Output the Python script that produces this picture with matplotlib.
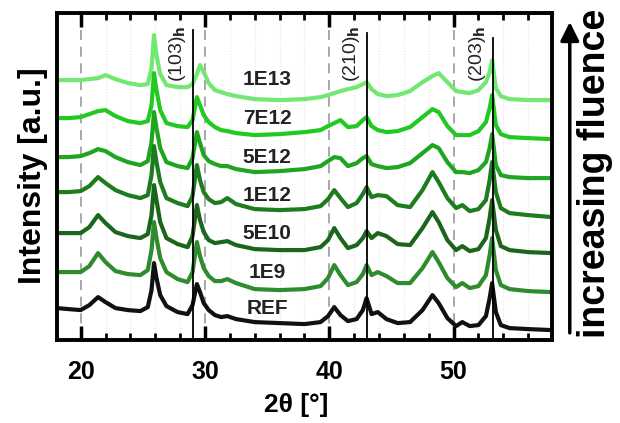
import matplotlib
matplotlib.use("Agg")
import matplotlib.pyplot as plt
from matplotlib.ticker import MultipleLocator

plt.rcParams["font.family"] = ["Liberation Sans", "DejaVu Sans"]
plt.rcParams["font.weight"] = "bold"

# 2theta sample points (deg)
two_theta = [18.1, 19.0, 20.0, 20.7, 21.4, 22.0, 22.8, 23.8, 24.8, 25.4,
             25.7, 25.9, 26.1, 26.4, 26.9, 27.8, 28.6, 29.0, 29.35, 29.6,
             29.9, 30.3, 30.8, 31.3, 31.8, 32.5, 34.0, 36.0, 38.0, 39.3,
             39.9, 40.4, 40.9, 41.5, 42.2, 42.7, 43.0, 43.4, 43.9, 44.6,
             45.5, 46.5, 47.5, 48.3, 48.8, 49.5, 50.2, 50.7, 51.3, 52.0,
             52.6, 52.9, 53.1, 53.4, 53.8, 54.5, 56.0, 57.9]

# stacked intensities (a.u.), already offset as in the plot
i_ref = [32, 31, 30, 35, 43, 38, 32, 30, 29, 33,
         50, 77, 62, 45, 34, 28, 26, 35, 56, 48,
         37, 30, 25, 23, 24, 21, 18, 17, 16, 18,
         24, 33, 25, 19, 21, 30, 42, 26, 28, 21,
         17, 18, 30, 45, 37, 22, 14, 18, 14, 15,
         24, 42, 57, 28, 15, 12, 11, 10]
i_1e9 = [68, 68, 68, 74, 87, 78, 69, 66, 65, 70,
         90, 118, 102, 82, 68, 61, 58, 68, 98, 84,
         72, 64, 59, 59, 61, 57, 51, 50, 51, 54,
         62, 75, 65, 55, 58, 66, 75, 65, 68, 64,
         57, 57, 72, 88, 78, 62, 53, 57, 52, 54,
         65, 85, 102, 70, 55, 51, 49, 48]
i_5e10 = [107, 107, 107, 113, 125, 117, 108, 104, 102, 106,
          125, 155, 140, 118, 102, 96, 93, 104, 135, 120,
          108, 100, 97, 98, 99, 95, 91, 90, 90, 93,
          100, 112, 102, 92, 95, 102, 109, 102, 107, 104,
          96, 95, 112, 128, 118, 100, 90, 94, 89, 91,
          102, 122, 140, 110, 94, 90, 88, 87]
i_1e12 = [148, 148, 149, 154, 163, 157, 150, 145, 142, 145,
          165, 194, 178, 158, 142, 137, 134, 144, 175, 160,
          148, 141, 137, 138, 142, 136, 131, 130, 131, 134,
          141, 150, 142, 133, 137, 146, 153, 143, 145, 144,
          135, 133, 150, 168, 158, 142, 132, 135, 129, 131,
          140, 160, 178, 148, 132, 127, 125, 123]
i_5e12 = [183, 183, 184, 187, 191, 189, 183, 178, 175, 179,
          198, 228, 212, 192, 178, 174, 172, 182, 208, 197,
          185, 179, 176, 174, 174, 171, 168, 169, 171, 174,
          179, 183, 182, 174, 177, 182, 184, 176, 174, 172,
          173, 177, 187, 195, 192, 178, 168, 168, 167, 170,
          178, 192, 206, 175, 165, 163, 162, 162]
i_7e12 = [222, 222, 223, 226, 229, 230, 224, 219, 217, 219,
          235, 267, 250, 230, 217, 214, 213, 220, 243, 235,
          225, 218, 213, 210, 209, 207, 205, 206, 208, 210,
          214, 217, 220, 213, 214, 220, 223, 214, 210, 208,
          209, 213, 223, 231, 228, 214, 205, 205, 205, 209,
          218, 232, 245, 215, 206, 203, 202, 201]
i_1e13 = [260, 260, 260, 261, 262, 265, 261, 257, 255, 256,
          272, 305, 285, 266, 255, 253, 253, 256, 266, 275,
          268, 257, 250, 248, 246, 244, 241, 240, 241, 243,
          245, 247, 249, 251, 253, 256, 258, 251, 246, 244,
          245, 249, 258, 264, 267, 258, 249, 248, 247, 250,
          258, 268, 280, 252, 244, 241, 240, 240]

sample_names = ["REF", "1E9", "5E10", "1E12", "5E12", "7E12", "1E13"]
label_heights = [32, 68, 107, 145, 183, 222, 261]

# reference reflections of the hexagonal phase
ref_peaks = [29.05, 43.05, 53.2]
ref_labels = ["(103)$_\\mathrm{h}$", "(210)$_\\mathrm{h}$", "(203)$_\\mathrm{h}$"]
ref_tops = [310, 307, 302]

colors = ["#111111", "#2e8b2e", "#1b661b", "#1e7c1e", "#1fa51f", "#22c922", "#72e872"]
curves = [i_ref, i_1e9, i_5e10, i_1e12, i_5e12, i_7e12, i_1e13]

fig = plt.figure(figsize=(6.2, 4.23), dpi=100)
ax = fig.add_axes([0.092, 0.196, 0.798, 0.773])

for x in range(22, 58, 2):
    if x % 10:
        ax.axvline(x, color="#e4e4e4", lw=0.8, ls=":", zorder=0)
for x in (20, 30, 40, 50):
    ax.axvline(x, color="#9a9a9a", lw=1.2, ls=(0, (6, 4)), zorder=0)

for ys, c in zip(curves[::-1], colors[::-1]):
    ax.plot(two_theta, ys, color=c, lw=3.0, solid_joinstyle="round")

for name, h in zip(sample_names, label_heights):
    ax.text(35.0, h, name, ha="center", va="center", fontsize=15,
            fontweight="bold", color="#222222")

for pos, lab, top in zip(ref_peaks, ref_labels, ref_tops):
    ax.plot([pos, pos], [0, top], color="black", lw=1.3)
    ax.text(pos - 1.25, 314, lab, rotation=90, ha="center", va="top",
            fontsize=14, fontweight="normal", color="#222222")

ax.set_xlim(18.1, 57.9)
ax.set_ylim(0, 327)
ax.set_yticks([])
ax.xaxis.set_major_locator(MultipleLocator(10))
ax.xaxis.set_minor_locator(MultipleLocator(2))
ax.tick_params(axis="x", which="major", direction="in", length=10, width=2.5,
               top=True, labelsize=18, pad=14)
ax.tick_params(axis="x", which="minor", direction="in", length=5, width=2,
               top=True)
for lab in ax.get_xticklabels():
    lab.set_fontweight("bold")
for sp in ax.spines.values():
    sp.set_linewidth(2.8)

fig.text(0.477, 0.043, "2θ [°]", ha="center", va="center", fontsize=19,
         fontweight="bold")
fig.text(0.053, 0.584, "Intensity [a.u.]", ha="center", va="center",
         rotation=90, fontsize=23, fontweight="bold")

ax.annotate("", xy=(0.919, 0.948), xytext=(0.919, 0.213),
            xycoords="figure fraction", textcoords="figure fraction",
            arrowprops=dict(arrowstyle="-|>", lw=2.5, color="black",
                            mutation_scale=28, shrinkA=0, shrinkB=0))
fig.text(0.959, 0.59, "increasing fluence", ha="center", va="center",
         rotation=90, fontsize=27, fontweight="bold")

fig.savefig("out.png", dpi=100)
